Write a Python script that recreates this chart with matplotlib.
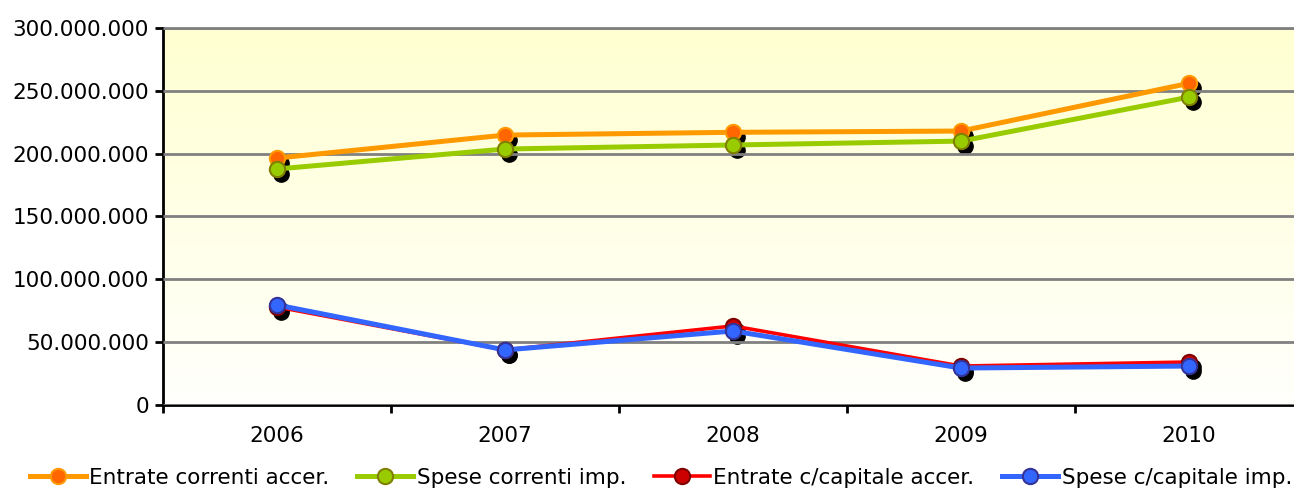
import numpy as np
import matplotlib.pyplot as plt
import matplotlib.transforms as mtransforms
from matplotlib.ticker import FuncFormatter

years = ['2006', '2007', '2008', '2009', '2010']
entrate_correnti = [196.5e6, 214.8e6, 217.0e6, 218.0e6, 256.0e6]
spese_correnti = [187.8e6, 203.7e6, 206.9e6, 210.0e6, 245.0e6]
entrate_capitale = [78.0e6, 43.8e6, 62.9e6, 31.0e6, 34.2e6]
spese_capitale = [79.6e6, 43.8e6, 58.9e6, 29.4e6, 31.0e6]

labels = ['Entrate correnti accer.', 'Spese correnti imp.',
          'Entrate c/capitale accer.', 'Spese c/capitale imp.']

fig = plt.figure(figsize=(12.94, 4.88), dpi=100)
# plot area runs slightly past the right edge of the image, like the original
ax = fig.add_axes([163 / 1294, 1 - 405 / 488, 1140 / 1294, 377 / 488])

x = np.arange(len(years))
ax.set_xlim(-0.5, 4.5)
ax.set_ylim(0, 300e6)

# gradient background
grad = np.linspace(0, 1, 256).reshape(-1, 1)
top = np.array([1.0, 1.0, 0.82])
bot = np.array([1.0, 1.0, 0.99])
img = top * (1 - grad[:, :, None]) + bot * grad[:, :, None]
ax.imshow(img, extent=[0, 1, 0, 1], transform=ax.transAxes, aspect='auto', zorder=0)

ax.set_yticks(np.arange(0, 300e6 + 1, 50e6))
ax.yaxis.set_major_formatter(FuncFormatter(lambda v, p: f'{int(v):,}'.replace(',', '.')))
ax.grid(axis='y', color='#808080', lw=2, zorder=1)
ax.set_axisbelow(False)

ax.spines['right'].set_visible(False)
ax.spines['top'].set_color('#808080')
ax.spines['top'].set_linewidth(2)
ax.spines['left'].set_linewidth(2)
ax.spines['bottom'].set_linewidth(2)

ax.set_xticks(np.arange(-0.5, 4.0, 1.0))
ax.set_xticklabels([])
ax.set_xticks(x, minor=True)
ax.set_xticklabels(years, minor=True)
ax.tick_params(axis='x', which='major', length=6, width=2, direction='out')
ax.tick_params(axis='x', which='minor', length=0, pad=15, labelsize=15.5)
ax.tick_params(axis='y', length=6, width=2, direction='out', labelsize=15.5, pad=4)

shadow = mtransforms.offset_copy(ax.transData, fig=fig, x=4, y=-5, units='dots')

styles = [
    (entrate_correnti, '#FF9900', '#FF6600', '#FF9900', 3.6),
    (spese_correnti, '#99CC00', '#99CC00', '#808000', 3.6),
    (entrate_capitale, '#FF0000', '#CC0000', '#800000', 2.6),
    (spese_capitale, '#3366FF', '#3366FF', '#333399', 3.6),
]

handles = []
for (vals, lc, mfc, mec, lw), lab in zip(styles, labels):
    ax.plot(x, vals, 'o', color='black', ms=11, transform=shadow, zorder=2, clip_on=False)
for (vals, lc, mfc, mec, lw), lab in zip(styles, labels):
    h, = ax.plot(x, vals, '-o', color=lc, lw=lw, ms=11, mfc=mfc, mec=mec, mew=1.5,
                 label=lab, zorder=3, clip_on=False)
    handles.append(h)

fig.legend(handles=handles, loc='center', bbox_to_anchor=(661 / 1294, 1 - 478 / 488), ncol=4,
           frameon=False, fontsize=15.5, handlelength=2.6, handletextpad=0.15,
           columnspacing=1.3, borderaxespad=0, borderpad=0)

fig.savefig('out.png', dpi=100)
